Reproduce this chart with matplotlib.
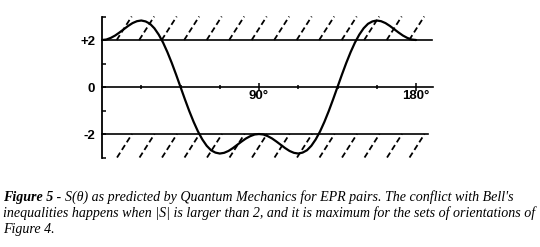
import numpy as np
import matplotlib
matplotlib.use("Agg")
import matplotlib.pyplot as plt

# S(theta), every 2.5 degrees
theta = np.arange(0, 180.1, 2.5)
S = [2.00, 2.02, 2.09, 2.19, 2.32, 2.46, 2.60, 2.72, 2.80, 2.83, 2.79, 2.69,
     2.50, 2.23, 1.89, 1.48, 1.02, 0.52, 0.00, -0.52, -1.02, -1.48, -1.89, -2.23,
     -2.50, -2.69, -2.79, -2.83, -2.80, -2.72, -2.60, -2.46, -2.32, -2.19, -2.09, -2.02,
     -2.00, -2.02, -2.09, -2.19, -2.32, -2.46, -2.60, -2.72, -2.80, -2.83, -2.79, -2.69,
     -2.50, -2.23, -1.89, -1.48, -1.02, -0.52, 0.00, 0.52, 1.02, 1.48, 1.89, 2.23,
     2.50, 2.69, 2.79, 2.83, 2.80, 2.72, 2.60, 2.46, 2.32, 2.19, 2.09, 2.02, 2.00]

bound_levels = [2, -2]
bound_ends = [189, 187]
ytick_vals = [-3, -2, -1, 0, 1, 2, 3]
ytick_text = ['', '-2', '', '0', '', '+2', '']
xmajor = [90, 180]
xmajor_text = ['90°', '180°']
xminor = [22.5, 45, 67.5, 112.5, 135, 157.5]

caption_lines = [
    "inequalities happens when |S| is larger than 2, and it is maximum for the sets of orientations of",
    "Figure 4.",
]

W, H = 540, 247
fig = plt.figure(figsize=(W / 100, H / 100), dpi=100)
ax = fig.add_axes([0.1728, 0.3527, 0.646, 0.590])
ax.set_xlim(-5, 195)
ax.set_ylim(-3.1, 3.1)

# curve
ax.plot(theta, S, color='black', lw=1.6, zorder=3, solid_capstyle='round')

# the +2 / -2 bounds
for lev, end in zip(bound_levels, bound_ends):
    ax.plot([0, end], [lev, lev], color='black', lw=1.2)

# dashed hatching beyond the bounds
for x0 in np.arange(8.4, 180, 12.9):
    ax.plot([x0, x0 + 8.6], [2, 3], color='black', lw=1.3, dashes=(3.2, 1.8))
for x0 in np.arange(8.6, 180, 12.9):
    ax.plot([x0, x0 + 8.6], [-3, -2], color='black', lw=1.3, dashes=(3.2, 1.8))

# axes: left spine at theta=0, bottom spine along S=0
for side in ['top', 'right']:
    ax.spines[side].set_visible(False)
ax.spines['left'].set_position(('data', 0))
ax.spines['left'].set_bounds(-3, 3)
ax.spines['left'].set_linewidth(1.3)
ax.spines['bottom'].set_position(('data', 0))
ax.spines['bottom'].set_bounds(0, 190)
ax.spines['bottom'].set_linewidth(1.2)

ax.set_yticks(ytick_vals)
ax.set_yticklabels(ytick_text, fontweight='bold', fontsize=9.5, family='Liberation Sans')
ax.tick_params(axis='y', direction='in', length=3, width=1.1, pad=5)

ax.set_xticks(xmajor)
ax.set_xticklabels(xmajor_text, fontweight='bold', fontsize=9.5, family='Liberation Sans')
ax.set_xticks(xminor, minor=True)
ax.tick_params(axis='x', which='major', direction='inout', length=6, width=1.1, pad=-1)
ax.tick_params(axis='x', which='minor', direction='inout', length=3.5, width=1.1)

# caption, built piece by piece
fig.canvas.draw()
rend = fig.canvas.get_renderer()
fs = 10.1
serif = 'Liberation Serif'


def put(x, y, s, **kw):
    t = fig.text(x / W, 1 - y / H, s, va='baseline', ha='left', fontsize=fs,
                 family=serif, **kw)
    return t.get_window_extent(rend).x1


x = put(3, 201, "Figure 5", style='italic', weight='bold')
x = put(x, 201, " - ")
x = put(x, 201, "S(θ) as predicted by Quantum Mechanics for EPR pairs. The conflict with Bell's",
        style='italic')
put(3, 217, caption_lines[0], style='italic')
put(3, 233, caption_lines[1], style='italic')

fig.savefig("out.png", dpi=100)
